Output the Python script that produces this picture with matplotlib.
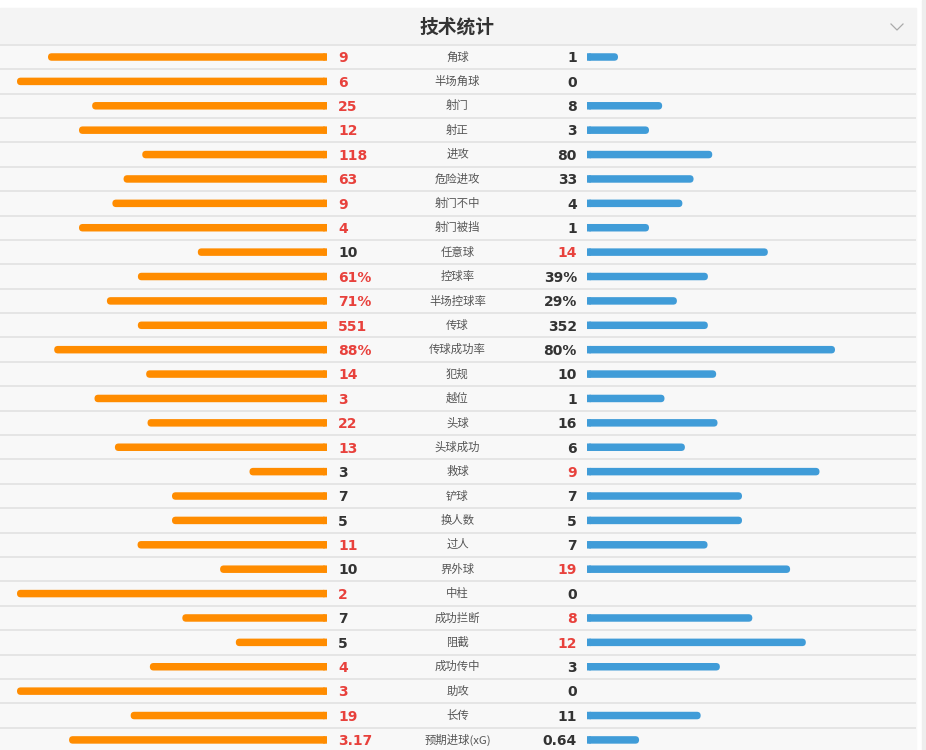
import matplotlib
matplotlib.use("Agg")
import matplotlib.pyplot as plt
from matplotlib.patches import FancyBboxPatch

plt.rcParams['font.family'] = ['Noto Sans CJK SC', 'DejaVu Sans']

title = "技术统计"
labels = ["角球", "半场角球", "射门", "射正", "进攻", "危险进攻", "射门不中", "射门被挡",
          "任意球", "控球率", "半场控球率", "传球", "传球成功率", "犯规", "越位", "头球",
          "头球成功", "救球", "铲球", "换人数", "过人", "界外球", "中柱", "成功拦断",
          "阻截", "成功传中", "助攻", "长传", "预期进球(xG)"]
home = [9, 6, 25, 12, 118, 63, 9, 4, 10, 61, 71, 551, 88, 14, 3, 22, 13, 3, 7, 5, 11,
        10, 2, 7, 5, 4, 3, 19, 3.17]
away = [1, 0, 8, 3, 80, 33, 4, 1, 14, 39, 29, 352, 80, 10, 1, 16, 6, 9, 7, 5, 7,
        19, 0, 8, 12, 3, 0, 11, 0.64]
is_pct = [False]*9 + [True, True, False, True] + [False]*16
home_txt = ["9", "6", "25", "12", "118", "63", "9", "4", "10", "61%", "71%", "551", "88%",
            "14", "3", "22", "13", "3", "7", "5", "11", "10", "2", "7", "5", "4", "3", "19", "3.17"]
away_txt = ["1", "0", "8", "3", "80", "33", "4", "1", "14", "39%", "29%", "352", "80%",
            "10", "1", "16", "6", "9", "7", "5", "7", "19", "0", "8", "12", "3", "0", "11", "0.64"]

W, H = 926, 750
fig = plt.figure(figsize=(W/100, H/100), dpi=100)
ax = fig.add_axes([0, 0, 1, 1])
ax.set_xlim(0, W)
ax.set_ylim(H, 0)
ax.axis('off')
fig.patch.set_facecolor('white')

PANEL_R = 916
ORANGE = '#FF8C00'
BLUE = '#409CD8'
RED = '#E8413C'
DARK = '#333333'
GRID = '#E2E2E2'

ax.add_patch(plt.Rectangle((0, 8), PANEL_R, 36.5, color='#F4F4F4', zorder=0))
ax.add_patch(plt.Rectangle((0, 44.5), PANEL_R, H - 44.5, color='#F8F8F8', zorder=0))
ax.add_patch(plt.Rectangle((922, 0), 4, H, color='#EEEEEE', zorder=0))
ax.text(457, 27, title, ha='center', va='center', fontsize=13.5, fontweight='bold', color='#333333')
ax.plot([891, 897, 903], [24, 30, 24], color='#AAAAAA', lw=0.9)

n = len(labels)
y0, dy = 57, 24.39
full = 310
inner_l, inner_r = 327, 587
bh = 7.5
r = bh / 2

ax.hlines([y0 - dy/2 + i*dy for i in range(n)], 0, PANEL_R, color=GRID, lw=1.2, zorder=1)


def rounded(bar, color, flat_side):
    x, yb, w, hgt = bar.get_x(), bar.get_y(), bar.get_width(), bar.get_height()
    bar.set_visible(False)
    if w <= 0:
        return
    p = FancyBboxPatch((x, yb), w, hgt, boxstyle=f"round,pad=0,rounding_size={r}",
                       facecolor=color, edgecolor='none', lw=0, zorder=2)
    p.set_snap(False)
    ax.add_patch(p)
    fx = x + w - min(r, w) if flat_side == 'right' else x
    q = plt.Rectangle((fx, yb), min(r, w), hgt, facecolor=color, edgecolor='none', lw=0, zorder=2)
    q.set_snap(False)
    ax.add_patch(q)


for i in range(n):
    y = y0 + i*dy
    h, a = home[i], away[i]
    if is_pct[i]:
        fh, fa = h/100, a/100
    else:
        s = h + a
        fh, fa = (h/s, a/s) if s else (0, 0)
    lh, la = fh*full, fa*full
    bl = ax.barh(y, lh, left=inner_l - lh, height=bh, color=ORANGE, zorder=2)[0]
    br = ax.barh(y, la, left=inner_r, height=bh, color=BLUE, zorder=2)[0]
    rounded(bl, ORANGE, 'right')
    rounded(br, BLUE, 'left')
    ch = RED if h > a else DARK
    ca = RED if a > h else DARK
    ax.text(338, y + 1.3, home_txt[i], ha='left', va='center', fontsize=10, fontweight='bold',
            color=ch, family='DejaVu Sans')
    ax.text(577, y + 1.3, away_txt[i], ha='right', va='center', fontsize=10, fontweight='bold',
            color=ca, family='DejaVu Sans')
    ax.text(457.5, y, labels[i], ha='center', va='center', fontsize=8.2, color='#555555')

fig.savefig('out.png', dpi=100, facecolor='white')
